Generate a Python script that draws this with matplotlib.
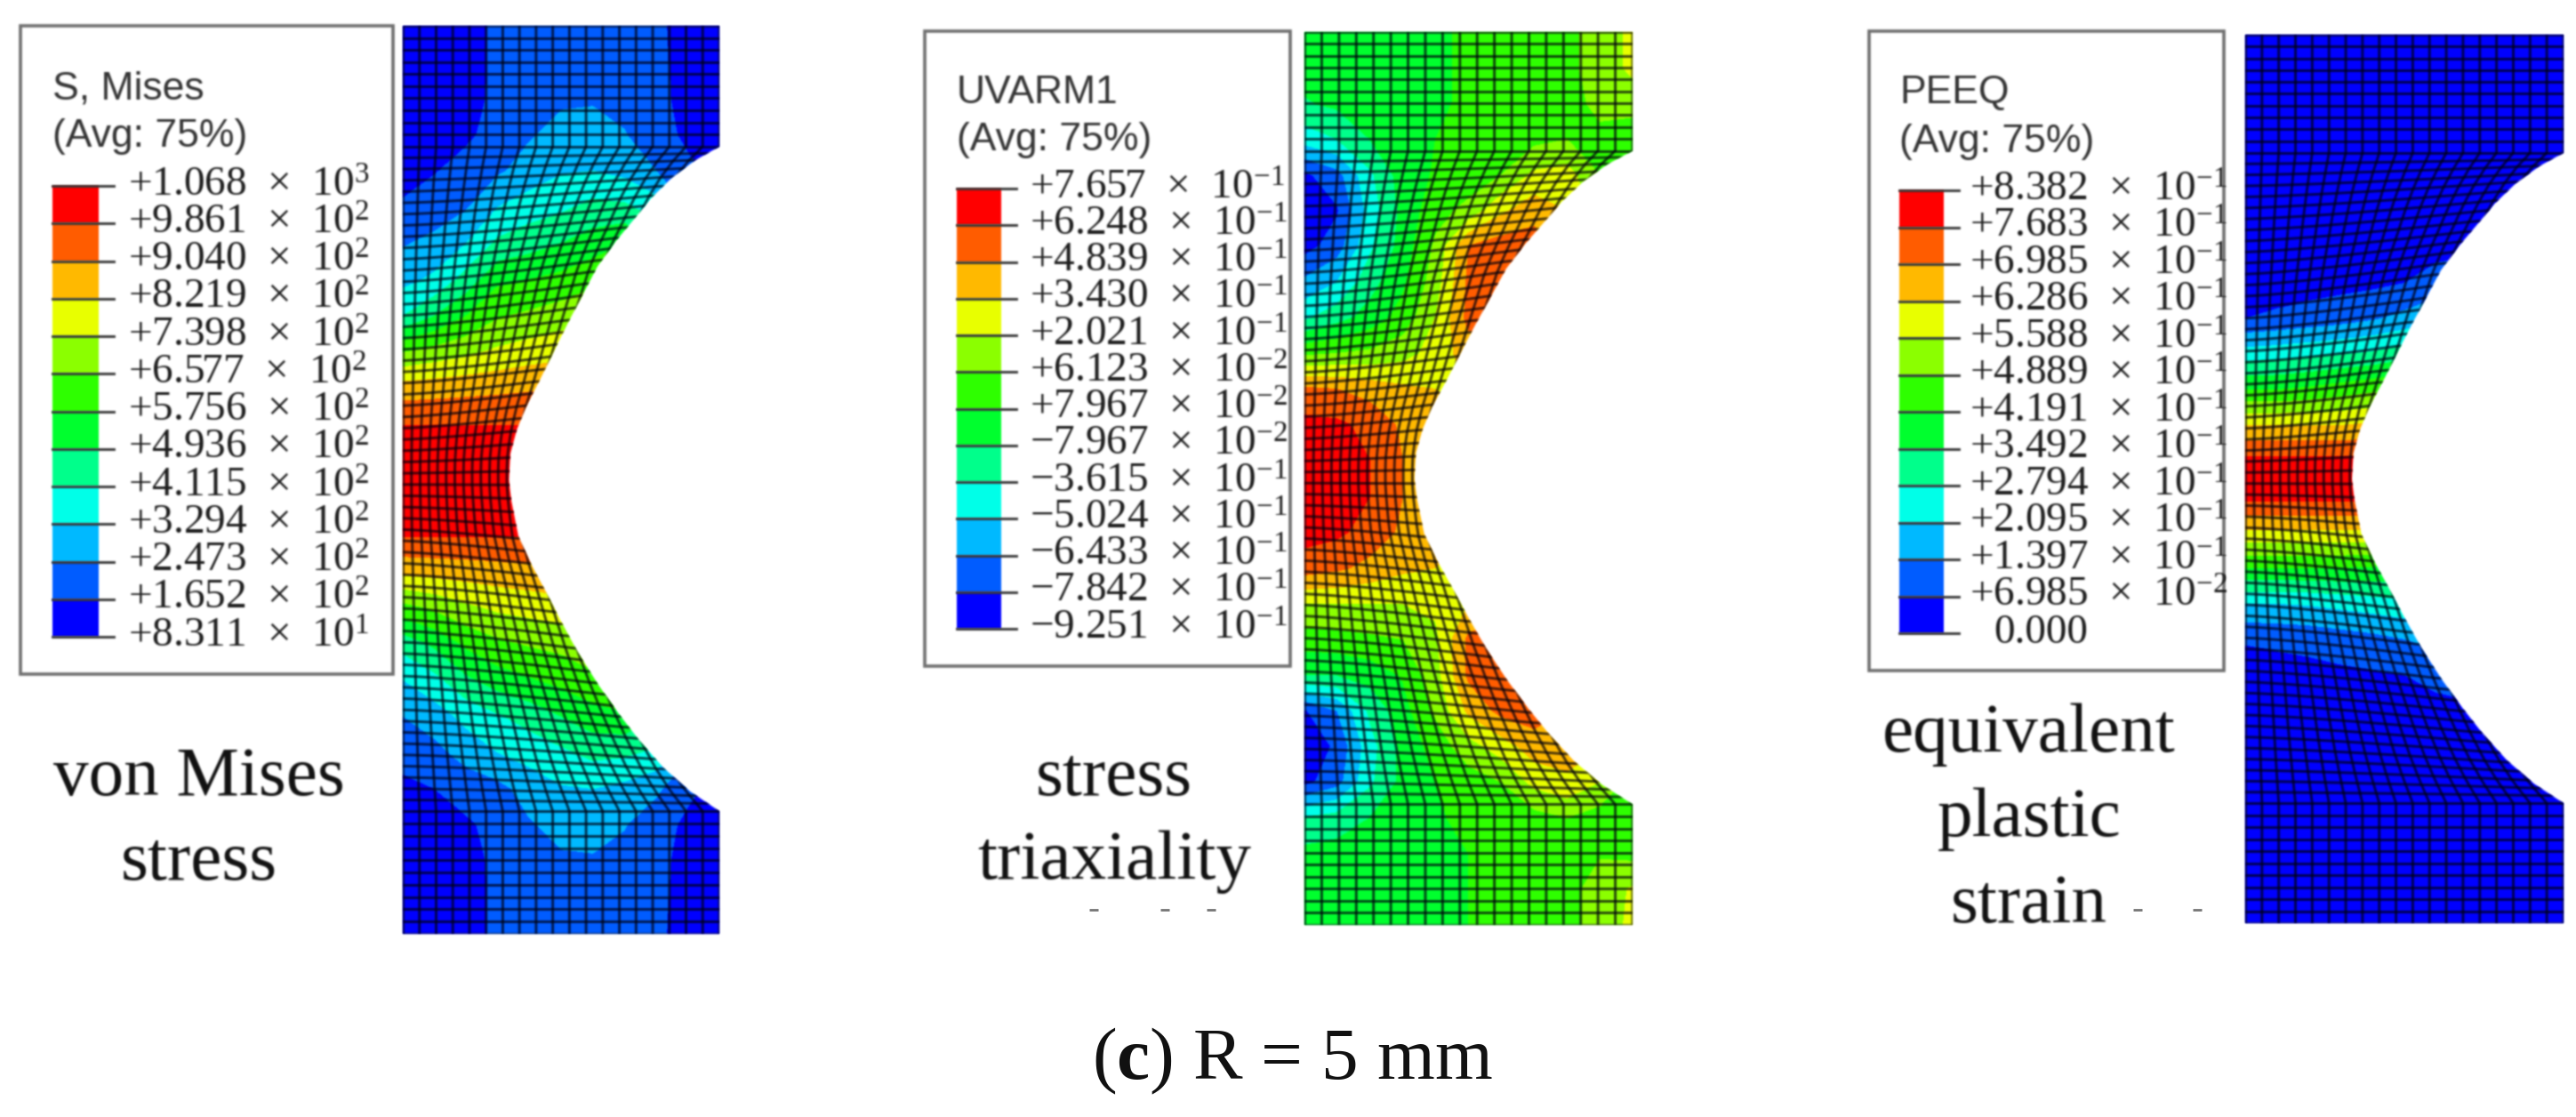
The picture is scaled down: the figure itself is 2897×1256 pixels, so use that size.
import numpy as np
import matplotlib
matplotlib.use('Agg')
import matplotlib.pyplot as plt
from matplotlib.collections import LineCollection
from matplotlib.patches import Rectangle, PathPatch
from matplotlib.path import Path

plt.rcParams['font.family'] = 'Liberation Serif'
plt.rcParams['mathtext.fontset'] = 'custom'
plt.rcParams['mathtext.rm'] = 'Liberation Serif'
plt.rcParams['mathtext.bf'] = 'Liberation Serif:bold'
plt.rcParams['mathtext.default'] = 'rm'

band_colors = ['#0000ff', '#005dff', '#00b9ff', '#00ffe8', '#00ff8b', '#00ff2e',
               '#2eff00', '#8bff00', '#e8ff00', '#ffb900', '#ff5d00', '#ff0000']

# legend labels, top to bottom
mises_vals = ['+1.068', '+9.861', '+9.040', '+8.219', '+7.398', '+6.577', '+5.756',
              '+4.936', '+4.115', '+3.294', '+2.473', '+1.652', '+8.311']
mises_exp = [3, 2, 2, 2, 2, 2, 2, 2, 2, 2, 2, 2, 1]
triax_vals = ['+7.657', '+6.248', '+4.839', '+3.430', '+2.021', '+6.123', '+7.967',
              '\u22127.967', '\u22123.615', '\u22125.024', '\u22126.433', '\u22127.842', '\u22129.251']
triax_exp = [-1, -1, -1, -1, -1, -2, -2, -2, -1, -1, -1, -1, -1]
peeq_vals = ['+8.382', '+7.683', '+6.985', '+6.286', '+5.588', '+4.889', '+4.191',
             '+3.492', '+2.794', '+2.095', '+1.397', '+6.985', '0.000']
peeq_exp = [-1, -1, -1, -1, -1, -1, -1, -1, -1, -1, -1, -2, None]

# notch edge, as fractions of the specimen height / width
notch_t = [.133, .148, .167, .190, .214, .238, .265, .295, .327, .360, .390, .419, .445,
           .471, .500, .523, .562, .592, .620, .654, .690, .726, .758, .787, .817, .843, .865]
notch_w = [1.0, .924, .851, .784, .728, .671, .615, .570, .522, .475, .433, .390, .360,
           .340, .335, .343, .365, .404, .447, .497, .553, .618, .683, .747, .823, .907, 1.0]

# field values in legend bands (0 = lowest tick, 12 = top tick)
grid_f = [0, .1, .2, .3, .4, .5, .6, .7, .8, .9, 1]
grid_t = [0, .04, .08, .12, .16, .20, .24, .28, .32, .36, .40, .44, .48, .52, .56,
          .60, .64, .68, .72, .76, .80, .84, .88, .92, .96, 1]

mises_field = [
    [.4, .5, .7, 1.15, 1.4, 1.5, 1.5, 1.4, 1.15, .7, .4],
    [.4, .5, .7, 1.15, 1.45, 1.6, 1.65, 1.5, 1.2, .7, .4],
    [.45, .55, .75, 1.15, 1.6, 1.85, 1.9, 1.7, 1.25, .7, .4],
    [.5, .6, .85, 1.3, 1.9, 2.3, 2.35, 2.05, 1.4, .8, .45],
    [.7, .95, 1.3, 1.85, 2.4, 2.9, 3.0, 2.7, 2.0, 1.2, .7],
    [1.1, 1.4, 1.9, 3.0, 3.5, 3.8, 4.3, 4.2, 3.5, 2.0, 1.0],
    [1.9, 2.3, 3.0, 4.2, 4.6, 5.0, 5.5, 6.0, 5.0, 4.0, 3.0],
    [2.7, 3.2, 4.4, 5.8, 6.0, 6.3, 6.7, 7.5, 7.0, 6.0, 5.0],
    [4.0, 5.0, 6.0, 6.9, 7.2, 7.5, 7.9, 8.7, 8.0, 7.0, 6.0],
    [7.0, 7.4, 7.8, 8.2, 8.5, 8.7, 8.9, 9.4, 9.0, 8.0, 7.0],
    [9.5, 9.6, 9.7, 9.8, 9.9, 10.0, 10.1, 10.3, 10.0, 9.0, 8.0],
    [11.0, 11.0, 11.0, 11.0, 11.0, 11.0, 11.0, 11.0, 11.0, 10.0, 9.0],
    [11.6, 11.6, 11.6, 11.6, 11.6, 11.6, 11.6, 11.6, 11.6, 11.0, 10.0],
    [11.7, 11.7, 11.7, 11.7, 11.7, 11.7, 11.7, 11.7, 11.7, 11.0, 10.0],
    [11.1, 11.1, 11.1, 11.1, 11.1, 11.1, 11.1, 11.1, 11.0, 10.0, 9.0],
    [9.3, 9.4, 9.5, 9.6, 9.7, 9.8, 10.0, 10.3, 10.0, 9.0, 8.0],
    [6.7, 7.2, 7.8, 8.2, 8.4, 8.6, 8.8, 9.3, 9.0, 8.0, 7.0],
    [4.4, 5.2, 6.2, 6.8, 7.1, 7.3, 7.8, 8.6, 8.0, 7.0, 6.0],
    [3.0, 3.7, 4.8, 5.5, 5.9, 6.3, 6.7, 7.4, 7.0, 6.0, 5.0],
    [2.0, 2.5, 3.3, 3.9, 4.4, 5.0, 5.6, 5.8, 5.0, 4.0, 3.0],
    [1.3, 1.7, 2.4, 3.0, 3.4, 3.8, 4.3, 4.2, 3.8, 2.2, 1.0],
    [.8, 1.0, 1.4, 1.7, 2.4, 2.9, 3.0, 2.7, 2.2, 1.2, .7],
    [.5, .6, .85, 1.3, 1.9, 2.3, 2.35, 2.05, 1.4, .8, .45],
    [.45, .55, .75, 1.15, 1.6, 1.85, 1.9, 1.7, 1.25, .7, .4],
    [.4, .5, .7, 1.15, 1.45, 1.6, 1.65, 1.5, 1.2, .7, .4],
    [.4, .5, .7, 1.15, 1.4, 1.5, 1.5, 1.4, 1.15, .7, .4],
]

triax_field = [
    [5.5, 5.5, 5.5, 5.6, 5.9, 6.1, 6.3, 6.4, 6.7, 7.5, 8.2],
    [5.4, 5.5, 5.5, 5.6, 5.9, 6.1, 6.3, 6.4, 6.7, 7.5, 8.2],
    [4.9, 5.2, 5.4, 5.6, 5.9, 6.1, 6.3, 6.4, 6.7, 7.2, 7.5],
    [3.4, 4.0, 5.0, 5.6, 6.0, 6.2, 6.4, 6.7, 7.0, 6.8, 6.2],
    [.8, 1.6, 3.8, 5.5, 6.1, 6.4, 7.0, 8.2, 8.4, 7.0, 5.8],
    [.2, .9, 3.4, 5.3, 6.6, 7.3, 8.8, 9.6, 9.0, 7.5, 7.0],
    [.6, 1.5, 3.8, 5.4, 7.2, 10.0, 10.5, 10.5, 9.0, 8.5, 8.0],
    [2.2, 3.0, 4.6, 5.8, 7.5, 10.2, 10.5, 10.5, 10.0, 9.0, 8.0],
    [3.8, 4.6, 5.4, 6.4, 8.0, 10.3, 10.5, 10.5, 10.0, 9.0, 8.0],
    [6.8, 7.0, 7.2, 7.6, 8.4, 9.5, 9.5, 9.5, 9.0, 8.0, 8.0],
    [10.2, 10.0, 9.6, 9.2, 9.0, 9.0, 9.0, 9.0, 9.0, 8.0, 8.0],
    [11.3, 11.2, 10.7, 9.8, 9.2, 9.0, 9.0, 9.0, 9.0, 9.0, 9.0],
    [11.8, 11.4, 11.0, 10.0, 9.2, 9.0, 9.0, 9.0, 9.0, 9.0, 9.0],
    [11.8, 11.4, 11.0, 10.0, 9.2, 9.0, 9.0, 9.0, 9.0, 9.0, 9.0],
    [11.4, 11.2, 10.6, 9.8, 9.2, 9.0, 9.0, 9.0, 9.0, 9.0, 9.0],
    [10.5, 10.2, 9.7, 9.2, 9.0, 9.0, 9.0, 9.0, 9.0, 8.0, 8.0],
    [8.0, 8.0, 8.0, 8.0, 8.2, 9.0, 9.5, 9.5, 9.0, 8.0, 8.0],
    [6.5, 6.6, 6.8, 7.0, 7.8, 10.2, 10.5, 10.5, 10.0, 9.0, 8.0],
    [5.0, 5.0, 5.4, 6.1, 7.6, 10.2, 10.5, 10.5, 10.0, 9.0, 8.0],
    [.9, 2.0, 4.2, 5.6, 7.2, 9.2, 10.3, 10.5, 10.0, 9.0, 8.0],
    [.2, 1.2, 3.6, 5.3, 6.4, 7.6, 8.5, 9.5, 9.5, 9.0, 7.0],
    [.7, 1.6, 3.8, 5.3, 6.0, 6.5, 7.0, 8.3, 8.8, 8.0, 6.5],
    [4.0, 4.4, 5.0, 5.5, 5.9, 6.2, 6.4, 6.6, 7.0, 6.5, 6.0],
    [5.3, 5.4, 5.5, 5.7, 5.9, 6.0, 6.2, 6.3, 6.5, 6.9, 6.7],
    [5.5, 5.5, 5.5, 5.6, 5.9, 6.0, 6.2, 6.3, 6.6, 7.5, 8.1],
    [5.5, 5.5, 5.5, 5.6, 5.9, 6.0, 6.2, 6.3, 6.6, 7.5, 8.2],
]

peeq_field = [
    [.5, .5, .5, .5, .5, .5, .5, .5, .5, .5, .5],
    [.5, .5, .5, .5, .5, .5, .5, .5, .5, .5, .5],
    [.5, .5, .5, .5, .5, .5, .5, .5, .5, .5, .5],
    [.5, .5, .5, .5, .5, .5, .5, .5, .5, .5, .5],
    [.5, .5, .5, .5, .5, .5, .5, .5, .5, .5, .5],
    [.5, .5, .5, .5, .5, .5, .5, .5, .5, .5, .5],
    [.5, .5, .5, .5, .5, .6, .7, .8, .8, .8, .8],
    [.5, .5, .6, .7, .8, 1.0, 1.4, 1.6, 1.6, 1.6, 1.6],
    [1.0, 1.2, 1.4, 1.6, 1.9, 2.3, 2.8, 3.0, 3.0, 3.0, 3.0],
    [3.5, 3.6, 3.8, 4.0, 4.2, 4.6, 5.2, 5.5, 5.5, 5.5, 5.5],
    [6.0, 6.0, 6.2, 6.5, 6.8, 7.0, 7.4, 7.6, 7.6, 7.6, 7.6],
    [9.0, 9.0, 9.0, 9.0, 9.2, 9.4, 9.5, 9.5, 9.5, 9.5, 9.5],
    [11.3, 11.3, 11.3, 11.3, 11.3, 11.3, 11.3, 11.3, 11.3, 11.3, 11.3],
    [11.3, 11.3, 11.3, 11.3, 11.3, 11.3, 11.3, 11.3, 11.3, 11.3, 11.3],
    [8.8, 8.8, 8.8, 8.8, 8.8, 8.8, 8.8, 8.8, 8.8, 8.8, 8.8],
    [6.0, 6.0, 6.0, 6.0, 5.9, 5.8, 5.8, 5.8, 5.8, 5.8, 5.8],
    [3.0, 3.0, 3.1, 3.3, 3.5, 3.7, 4.0, 4.0, 4.0, 4.0, 4.0],
    [1.1, 1.2, 1.3, 1.5, 1.7, 2.0, 2.3, 2.5, 2.5, 2.5, 2.5],
    [.5, .6, .7, .8, .9, 1.0, 1.3, 1.5, 1.5, 1.5, 1.5],
    [.5, .5, .5, .5, .5, .6, .7, .8, .8, .8, .8],
    [.5, .5, .5, .5, .5, .5, .5, .5, .5, .5, .5],
    [.5, .5, .5, .5, .5, .5, .5, .5, .5, .5, .5],
    [.5, .5, .5, .5, .5, .5, .5, .5, .5, .5, .5],
    [.5, .5, .5, .5, .5, .5, .5, .5, .5, .5, .5],
    [.5, .5, .5, .5, .5, .5, .5, .5, .5, .5, .5],
    [.5, .5, .5, .5, .5, .5, .5, .5, .5, .5, .5],
]


def soften(img, dpi, kern=(.06, .24, .4, .24, .06)):
    # the reference is a blown up screenshot, so everything is slightly blurred
    pad = len(kern)
    a = np.pad(img, ((pad, pad), (pad, pad), (0, 0))).astype(float)
    a[..., :3] *= a[..., 3:]
    for axis in (0, 1):
        a = sum(k * np.roll(a, i - len(kern) // 2, axis=axis) for i, k in enumerate(kern))
    alpha = np.clip(a[..., 3:], 1e-4, 1)
    a[..., :3] = np.clip(a[..., :3] / alpha, 0, 1)
    return np.clip(a, 0, 1), -pad, -pad


def specimen(ax, box, field):
    x0, x1, y0, y1 = box
    w = x1 - x0
    h = y1 - y0

    # arc length along the notch so the element rows land evenly on it
    tt = np.array(notch_t)
    ww = np.array(notch_w)
    seg = np.hypot(np.diff(tt) * h, np.diff(ww) * w)
    arc = np.concatenate([[0], np.cumsum(seg)])

    n_mid = 60
    s = np.linspace(0, arc[-1], n_mid)
    right_t = np.interp(s, arc, tt)
    right_w = np.interp(s, arc, ww)
    left_t = np.linspace(notch_t[0], notch_t[-1], n_mid)
    top_t = np.linspace(0, notch_t[0], 11)[:-1]
    bot_t = np.linspace(notch_t[-1], 1, 11)[1:]

    row_l = np.concatenate([top_t, left_t, bot_t])
    row_r = np.concatenate([top_t, right_t, bot_t])
    row_w = np.concatenate([np.ones(10), right_w, np.ones(10)])

    # columns squeeze less than the neck does, the outer ones run out into the notch
    u = np.linspace(0, 1, 20)
    col_w = row_w ** .6
    xf = np.outer(col_w, u)
    rel = np.clip(xf / row_w[:, None], 0, 1)
    X = x0 + w * xf
    Y = y0 + h * (row_l[:, None] + (row_r - row_l)[:, None] * rel ** 1.3)

    outline = [(x0, y0), (x1, y0)]
    outline += [(x0 + w * a, y0 + h * b) for a, b in zip(notch_w, notch_t)]
    outline += [(x1, y1), (x0, y1), (x0, y0)]
    clip = PathPatch(Path(outline), transform=ax.transData)

    gx = x0 + w * np.array(grid_f)
    gy = y0 + h * np.array(grid_t)
    cs = ax.contourf(gx, gy, np.array(field), levels=np.arange(13), colors=band_colors, zorder=2)
    cs.set_clip_path(clip)
    cs.set_agg_filter(soften)

    segs = [np.column_stack([X[i], Y[i]]) for i in range(X.shape[0])]
    segs += [np.column_stack([X[:, j], Y[:, j]]) for j in range(X.shape[1])]
    mesh = LineCollection(segs, colors='#00000f', linewidths=2.1, alpha=.72, zorder=3)
    mesh.set_clip_path(clip)
    mesh.set_agg_filter(soften)
    ax.add_collection(mesh)


def legend(ax, box, bar, label_x, title, title_y, vals, exps):
    bx0, bx1, by0, by1 = box
    cx0, cx1, cy0, cy1 = bar
    frame = Rectangle((bx0, by0), bx1 - bx0, by1 - by0, fc='white', ec='#707070', lw=2.6, zorder=1)
    frame.set_agg_filter(soften)
    ax.add_patch(frame)

    ticks = np.linspace(cy0, cy1, len(vals))
    for k, col in enumerate(band_colors[::-1]):
        r = ax.bar(cx0, ticks[k + 1] - ticks[k], width=cx1 - cx0, bottom=ticks[k], align='edge',
                   color=col, zorder=2)
        r[0].set_agg_filter(soften)
    for k, (val, e) in enumerate(zip(vals, exps)):
        tl = ax.plot([cx0, cx1 + 17], [ticks[k], ticks[k]], color='#333333', lw=2, zorder=3)
        tl[0].set_agg_filter(soften)
        if e is None:
            s = val
            x = label_x + 27
        else:
            s = val + '  \u00d7  10$^{%d}$' % e
            x = label_x
        t = ax.text(x, ticks[k], s, fontsize=34, color='#1c1c1c', va='center', ha='left', zorder=4)
        t.set_agg_filter(soften)
    for line, y in zip(title, title_y):
        t = ax.text(cx0, y, line, fontsize=32, family='Liberation Sans', color='#333333',
                    va='center', ha='left', zorder=4)
        t.set_agg_filter(soften)


fig = plt.figure(figsize=(28.97, 12.56), dpi=100)
ax = fig.add_axes([0, 0, 1, 1])
ax.set_xlim(0, 2897)
ax.set_ylim(1256, 0)
ax.axis('off')

specimen(ax, (453, 809, 29, 1050), mises_field)
specimen(ax, (1467, 1836, 36, 1040), triax_field)
specimen(ax, (2525, 2883, 39, 1038), peeq_field)

legend(ax, (23, 442, 29, 758), (59, 111, 209, 716), 144,
       ['S, Mises', '(Avg: 75%)'], [100, 153], mises_vals, mises_exp)
legend(ax, (1040, 1451, 35, 749), (1076, 1126, 212, 707), 1158,
       ['UVARM1', '(Avg: 75%)'], [105, 158], triax_vals, triax_exp)
legend(ax, (2102, 2501, 35, 754), (2136, 2186, 214, 712), 2215,
       ['PEEQ', '(Avg: 75%)'], [105, 160], peeq_vals, peeq_exp)

captions = [('von Mises', 224, 894), ('stress', 224, 989),
            ('stress', 1253, 894), ('triaxiality', 1253, 988),
            ('equivalent', 2282, 845), ('plastic', 2282, 940), ('strain', 2282, 1037)]
for s, x, y in captions:
    t = ax.text(x, y, s, fontsize=57, color='#111111', ha='center', va='baseline')
    t.set_agg_filter(soften)

# leftovers of a cropped line of text in the original
ax.plot([1230, 1310, 1362, 2404, 2471], [1023] * 5, ls='none', marker='_', ms=7, mew=2, color='#777777')

ax.text(1453, 1213, '($\\mathbf{c}$) R = 5 mm', fontsize=60, color='#111111', ha='center', va='baseline')

fig.savefig('out.png', dpi=100)
